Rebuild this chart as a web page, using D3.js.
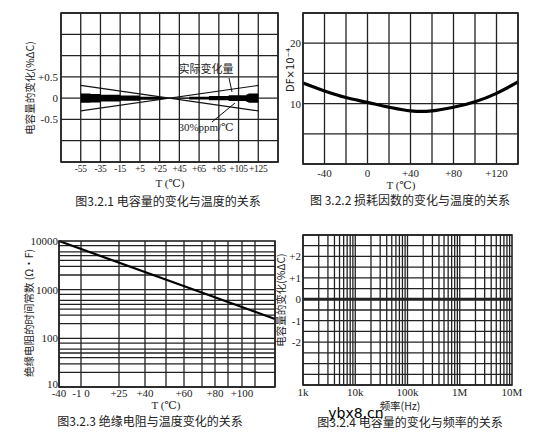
<!DOCTYPE html>
<html><head><meta charset="utf-8">
<script src="https://cdn.jsdelivr.net/npm/d3@7"></script>
<style>body{margin:0;background:#fff}text{fill:#222}</style></head>
<body><svg id="c" width="533" height="445"></svg>
<script>
// Panel 1 data
const p1Ticks = [-55,-35,-15,5,25,45,65,85,105,125];
const p1YTicks = [0.5,0,-0.5];
const p1Band = [[-55,0.11],[-45,0.1],[-35,0.08],[-15,0.06],[5,0.035],[25,0.02],[31,0.012]];
const p1Band2 = [[39,0.008],[55,0.03],[75,0.05],[95,0.07],[113,0.09],[115,0.11],[125,0.12]];
const p1Lines = [[[-55,0.3],[125,-0.3]],[[-55,-0.3],[125,0.3]]];
// Panel 2 data
const p2Ticks = [-40,0,40,80,120];
const p2YTicks = [20,10];
const p2T = [-60,-40,-20,0,20,40,50,60,80,100,120,140];
const p2DF = [13.4,12.1,11.0,10.2,9.4,8.8,8.7,8.8,9.4,10.3,11.7,13.6];
// Panel 3 data
const p3Grid = [-40,-10,25,40,50,60,70,80,90,100,110,125];
const p3Ticks = [-40,-10,25,40,60,80,100];
const p3TickLabels = ["-40","-1 0","+25","+40","+60","+80","+100"];
const p3YTicks = [10000,1000,100,10];
const p3Line = [[-40,10000],[125,250]];
// Panel 4 data
const p4Ticks = [1e3,1e4,1e5,1e6,1e7];
const p4TickLabels = ["1k","10k","100k","1M","10M"];
const p4YTicks = [2,1,0,-1,-2];
const p4YLabels = ["+2","+1","0","-1","-2"];

const svg = d3.select("#c");
const SER = "'Liberation Serif','DejaVu Serif',serif";
const CJK = "'Noto Sans CJK SC',sans-serif";
const GC = "#222";
function vline(g,x,y0,y1,w){g.append("line").attr("x1",x).attr("x2",x).attr("y1",y0).attr("y2",y1).attr("stroke",GC).attr("stroke-width",w||1.3);}
function hline(g,y,x0,x1,w){g.append("line").attr("y1",y).attr("y2",y).attr("x1",x0).attr("x2",x1).attr("stroke",GC).attr("stroke-width",w||1.3);}
function txt(x,y,s,opt={}){const t=svg.append("text").attr("x",x).attr("y",y).text(s)
 .attr("font-family",opt.f||SER).attr("font-size",opt.s||11).attr("text-anchor",opt.a||"middle");
 if(opt.r) t.attr("transform",`rotate(-90,${x},${y})`); return t;}
function border(x0,x1,y0,y1){svg.append("rect").attr("x",x0).attr("y",y0).attr("width",x1-x0).attr("height",y1-y0).attr("fill","none").attr("stroke",GC).attr("stroke-width",1.6);}

// ---------- Panel 1
{const x=d3.scaleLinear([-75,145],[61,278]), y=d3.scaleLinear([-1.5,2],[162,13]);
 const g=svg.append("g");
 d3.range(-75,146,20).forEach(v=>vline(g,x(v),y(2),y(-1.5)));
 d3.range(-1.5,2.01,0.5).forEach(v=>hline(g,y(v),x(-75),x(145)));
 border(61,278,13,162);
 const ar=d3.area().x(d=>x(d[0])).y0(d=>y(-d[1])).y1(d=>y(d[1])).curve(d3.curveStepAfter);
 g.append("path").attr("d",ar(p1Band)).attr("fill","#000");
 g.append("path").attr("d",ar(p1Band2)).attr("fill","#000");
 const ln=d3.line().x(d=>x(d[0])).y(d=>y(d[1]));
 p1Lines.forEach((l,i)=>g.append("path").attr("d",ln(l)).attr("stroke","#111").attr("stroke-width",1.1).attr("fill","none"));
 p1Ticks.forEach(v=>txt(x(v),172,(v>0?"+":"")+v,{s:9.5}).attr("letter-spacing",-0.3));
 p1YTicks.forEach(v=>txt(58,y(v)+4,(v>0?"+":"")+v,{a:"end"}));
 txt(170,187,"T (℃)",{s:11});
 txt(34,88,"电容量的变化(%ΔC)",{f:CJK,s:10.5,r:1});
 txt(168,206,"图3.2.1  电容量的变化与温度的关系",{f:CJK,s:12});
 txt(206,73,"实际变化量",{f:CJK,s:11});
 g.append("line").attr("x1",229).attr("y1",78).attr("x2",232).attr("y2",92).attr("stroke","#111");
 txt(206,131,"30%ppm/℃",{s:11});
 g.append("line").attr("x1",212).attr("y1",122).attr("x2",235).attr("y2",103).attr("stroke","#111");
}
// ---------- Panel 2
{const x=d3.scaleLinear([-60,140],[303,518]), y=d3.scaleLinear([0,25],[164,13]);
 const g=svg.append("g");
 d3.range(-60,141,20).forEach(v=>vline(g,x(v),13,164));
 d3.range(0,26,5).forEach(v=>hline(g,y(v),303,518));
 border(303,518,13,164);
 g.append("path").attr("d",d3.line().x((d,i)=>x(p2T[i])).y(d=>y(d)).curve(d3.curveMonotoneX)(p2DF))
  .attr("fill","none").attr("stroke","#000").attr("stroke-width",3.2);
 p2Ticks.forEach(v=>txt(x(v),177,(v>0?"+":"")+v));
 p2YTicks.forEach(v=>txt(301,y(v)+4,v,{a:"end"}));
 txt(401,189,"T (℃)");
 txt(294,70,"DF×10⁻⁴",{r:1,s:10,f:"'DejaVu Sans',sans-serif"});
 txt(410,205,"图 3.2.2  损耗因数的变化与温度的关系",{f:CJK,s:12});
}
// ---------- Panel 3
{const x=d3.scaleLinear(p3Grid,[59,81,119,145,166,184,202,215,228,242,255,275]);
 const y=d3.scaleLog([10,10000],[387,241]);
 const g=svg.append("g");
 p3Grid.forEach(v=>vline(g,x(v),241,387));
 [10,100,1000].forEach(d=>[1,2,3,4,5,6,8].forEach(m=>hline(g,y(d*m),59,275)));
 border(59,275,241,387);
 g.append("path").attr("d",d3.line().x(d=>x(d[0])).y(d=>y(d[1]))(p3Line)).attr("stroke","#000").attr("stroke-width",2.2).attr("fill","none");
 p3Ticks.forEach((v,i)=>txt(x(v),397,p3TickLabels[i]));
 p3YTicks.forEach(v=>txt(58,y(v)+(v===10?1:4),v,{a:"end"}));
 txt(166,409,"T (℃)");
 txt(33,313,"绝缘电阻的时间常数 (Ω·F)",{f:CJK,s:10.5,r:1});
 txt(150,426,"图3.2.3  绝缘电阻与温度变化的关系",{f:CJK,s:12});
}
// ---------- Panel 4
{const x=d3.scaleLog([1e3,1e7],[303,512]), y=d3.scaleLinear([-4,3],[385,235]);
 const g=svg.append("g");
 [1e3,1e4,1e5,1e6].forEach(d=>d3.range(1,10).forEach(m=>vline(g,x(d*m),235,385)));
 d3.range(-4,3.01,0.5).forEach(v=>hline(g,y(v),303,512));
 border(303,512,235,385);
 hline(g,y(0),303,512,3);
 p4Ticks.forEach((v,i)=>txt(x(v),396,p4TickLabels[i]));
 p4YTicks.forEach((v,i)=>txt(301,y(v)+4,p4YLabels[i],{a:"end"}));
 txt(400,410,"频率(Hz)",{f:CJK,s:10.5});
 txt(285,300,"电容量的变化(%ΔC)",{f:CJK,s:10.5,r:1});
 txt(410,427,"图3.2.4  电容量的变化与频率的关系",{f:CJK,s:12});
 txt(356,418,"ybx8.cn",{f:"'DejaVu Sans',sans-serif",s:14}).style("fill","#000");
}
</script></body></html>
